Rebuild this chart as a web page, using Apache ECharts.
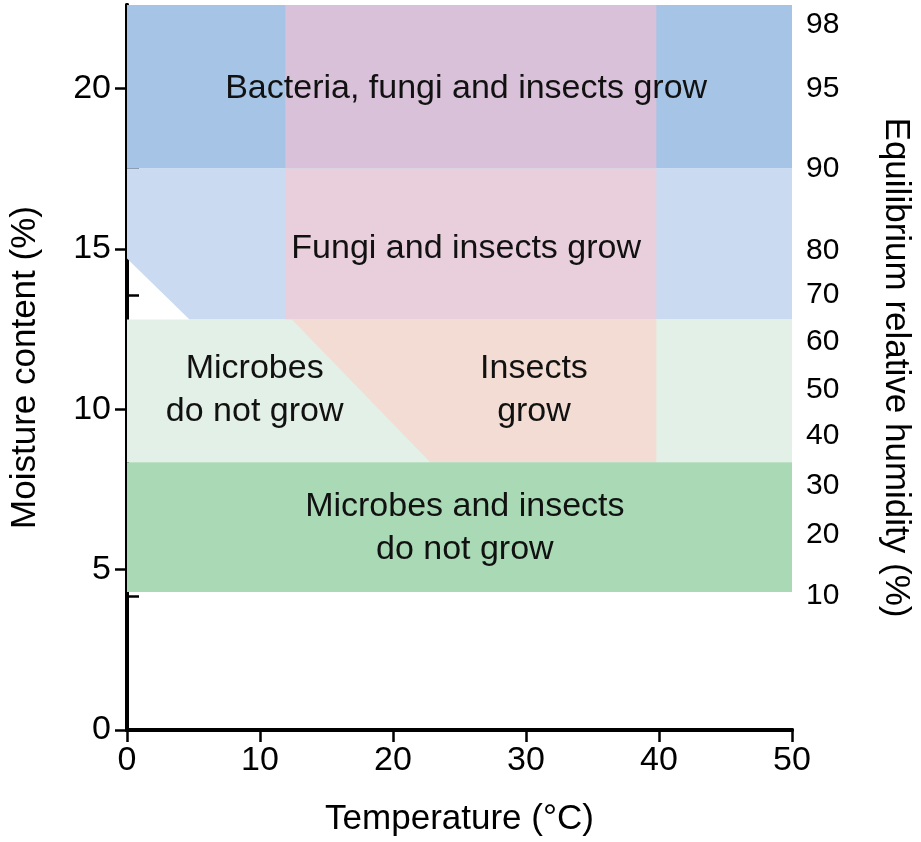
<!DOCTYPE html>
<html>
<head>
    <script src="https://cdn.jsdelivr.net/npm/echarts@6/dist/echarts.min.js"></script>
</head>
<body>
    <div id="main"></div>
</body>
<style>
    body { margin: 0; }
    #main { width: 921px; height: 842px; }
</style>
<script>
    const xTicks = [0, 10, 20, 30, 40, 50]
    const yTicks = [0, 5, 10, 15, 20]
    // equilibrium relative humidity -> moisture content position
    const humLabels = [98, 95, 90, 80, 70, 60, 50, 40, 30, 20, 10]
    const humPos = [22.0, 20.0, 17.5, 14.95, 13.56, 12.1, 10.6, 9.16, 7.6, 6.1, 4.18]

    // regions: [temperature, moisture] vertices
    const regions = [
        { color: '#a6c5e6', pts: [[0, 17.5], [50, 17.5], [50, 22.6], [0, 22.6]] },
        { color: '#d8c1d9', pts: [[11.9, 17.5], [39.8, 17.5], [39.8, 22.6], [11.9, 22.6]] },
        { color: '#c9daf1', pts: [[0, 14.7], [4.7, 12.8], [50, 12.8], [50, 17.5], [0, 17.5]] },
        { color: '#e9cfdc', pts: [[11.9, 12.8], [39.8, 12.8], [39.8, 17.5], [11.9, 17.5]] },
        { color: '#e3f0e7', pts: [[0, 8.35], [50, 8.35], [50, 12.8], [0, 12.8]] },
        { color: '#f3dcd3', pts: [[12.4, 12.8], [22.8, 8.35], [39.8, 8.35], [39.8, 12.8]] },
        { color: '#a9d9b5', pts: [[0, 4.3], [50, 4.3], [50, 8.35], [0, 8.35]] }
    ]

    const labels = [
        { text: 'Bacteria, fungi and insects grow', pos: [25.5, 20.0] },
        { text: 'Fungi and insects grow', pos: [25.5, 15.0] },
        { text: 'Microbes\ndo not grow', pos: [9.6, 10.6] },
        { text: 'Insects\ngrow', pos: [30.6, 10.6] },
        { text: 'Microbes and insects\ndo not grow', pos: [25.4, 6.3] }
    ]

    const chart = echarts.init(document.getElementById('main'))
    const font = 'Liberation Sans, Arial, sans-serif'
    const axisCommon = {
        axisLine: { show: true, lineStyle: { color: '#000', width: 4 } },
        axisTick: { show: true, inside: false, length: 12, lineStyle: { color: '#000', width: 2.5 } },
        splitLine: { show: false },
        axisLabel: { color: '#000', fontSize: 34, fontFamily: font },
        nameTextStyle: { color: '#000', fontSize: 35, fontFamily: font }
    }

    chart.setOption({
        animation: false,
        grid: { left: 120, right: 114, top: 5, bottom: 107 },
        xAxis: [
            Object.assign({}, axisCommon, {
                type: 'value', min: 0, max: 50, interval: 10,
                name: 'Temperature (°C)', nameLocation: 'middle', nameGap: 72,
                axisLabel: Object.assign({}, axisCommon.axisLabel, { margin: 14 })
            }),
            {
                type: 'value', min: 0, max: 50, position: 'top',
                axisLine: { show: true, lineStyle: { color: '#000', width: 4 } },
                axisTick: { show: false }, axisLabel: { show: false }, splitLine: { show: false }
            }
        ],
        yAxis: [
            Object.assign({}, axisCommon, {
                type: 'value', min: 0, max: 22.6, interval: 5,
                name: 'Moisture content (%)', nameLocation: 'middle', nameGap: 84,
                axisLabel: Object.assign({}, axisCommon.axisLabel, { margin: 16, showMaxLabel: false })
            }),
            Object.assign({}, axisCommon, {
                type: 'value', min: 0, max: 22.6, position: 'right',
                name: 'Equilibrium relative humidity (%)', nameLocation: 'middle', nameGap: 86, nameRotate: -90,
                axisTick: Object.assign({}, axisCommon.axisTick, { customValues: humPos }),
                axisLabel: Object.assign({}, axisCommon.axisLabel, {
                    fontSize: 30, margin: 14, customValues: humPos,
                    formatter: v => {
                        const i = humPos.findIndex(p => Math.abs(p - v) < 1e-6)
                        return i >= 0 ? String(humLabels[i]) : ''
                    }
                })
            })
        ],
        series: [
            {
                type: 'custom',
                coordinateSystem: 'cartesian2d',
                data: regions.map((r, i) => [i]),
                renderItem: (params, api) => {
                    const r = regions[api.value(0)]
                    return {
                        type: 'polygon',
                        shape: { points: r.pts.map(p => api.coord(p)) },
                        style: { fill: r.color }
                    }
                },
                z: 1
            },
            {
                type: 'custom',
                coordinateSystem: 'cartesian2d',
                data: labels.map(l => l.pos),
                renderItem: (params, api) => {
                    const p = api.coord([api.value(0), api.value(1)])
                    return {
                        type: 'text',
                        x: p[0], y: p[1],
                        style: {
                            text: labels[params.dataIndex].text,
                            fill: '#111', font: '34px ' + font,
                            align: 'center', verticalAlign: 'middle', lineHeight: 43
                        }
                    }
                },
                z: 2
            }
        ]
    })
</script>
</html>
